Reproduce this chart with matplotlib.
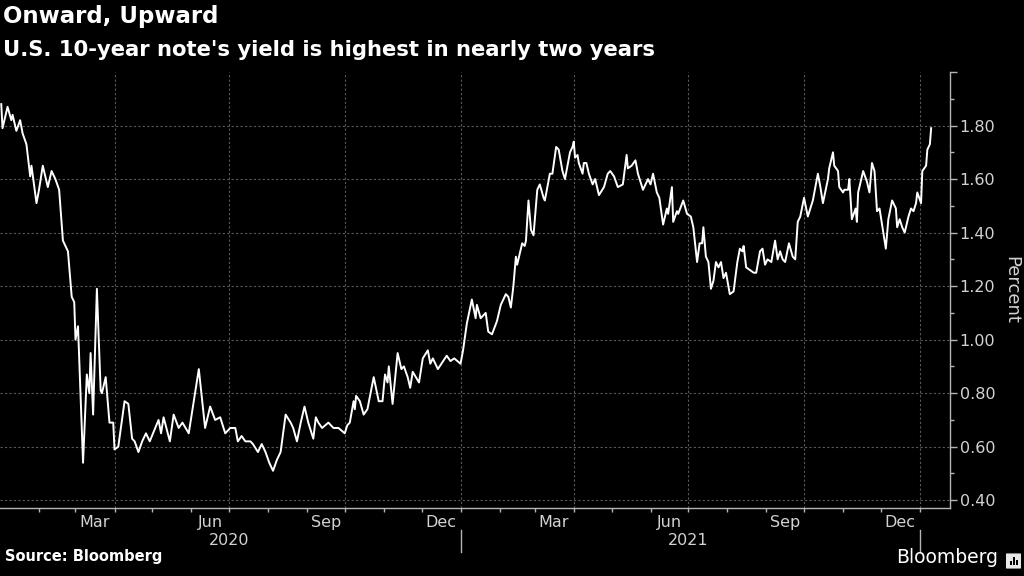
import numpy as np
import pandas as pd
import matplotlib
matplotlib.use("Agg")
import matplotlib.pyplot as plt
import matplotlib.transforms as mtransforms
from matplotlib.patches import FancyBboxPatch, Rectangle
from matplotlib.lines import Line2D

title = "Onward, Upward"
subtitle = "U.S. 10-year note's yield is highest in nearly two years"
source = "Source: Bloomberg"
y_label = "Percent"

# US 10-year yield
dates_2020 = [
    "2020-01-02", "2020-01-03", "2020-01-07", "2020-01-10", "2020-01-11", "2020-01-14",
    "2020-01-17", "2020-01-19", "2020-01-22", "2020-01-25", "2020-01-26", "2020-01-28",
    "2020-01-30", "2020-02-01", "2020-02-04", "2020-02-08", "2020-02-11", "2020-02-14",
    "2020-02-17", "2020-02-20", "2020-02-24", "2020-02-27", "2020-02-29", "2020-03-01",
    "2020-03-03", "2020-03-07", "2020-03-10", "2020-03-12", "2020-03-13", "2020-03-15",
    "2020-03-18", "2020-03-21", "2020-03-22", "2020-03-25", "2020-03-28", "2020-03-31",
    "2020-04-01", "2020-04-04", "2020-04-09", "2020-04-12", "2020-04-15", "2020-04-17",
    "2020-04-20", "2020-04-23", "2020-04-26", "2020-04-29", "2020-05-06", "2020-05-08",
    "2020-05-10", "2020-05-15", "2020-05-18", "2020-05-22", "2020-05-25", "2020-05-30",
    "2020-06-02", "2020-06-07", "2020-06-12", "2020-06-16", "2020-06-20", "2020-06-24",
    "2020-06-28", "2020-07-02", "2020-07-06", "2020-07-08", "2020-07-11", "2020-07-14",
    "2020-07-18", "2020-07-20", "2020-07-24", "2020-07-27", "2020-07-30", "2020-08-02",
    "2020-08-05", "2020-08-08", "2020-08-11", "2020-08-15", "2020-08-19", "2020-08-21",
    "2020-08-24", "2020-08-27", "2020-08-30", "2020-09-02", "2020-09-06", "2020-09-08",
    "2020-09-10", "2020-09-13", "2020-09-18", "2020-09-22", "2020-09-26", "2020-10-01",
    "2020-10-03", "2020-10-05", "2020-10-08", "2020-10-09", "2020-10-10", "2020-10-13",
    "2020-10-16", "2020-10-19", "2020-10-24", "2020-10-28", "2020-10-31", "2020-11-02",
    "2020-11-04", "2020-11-05", "2020-11-08", "2020-11-12", "2020-11-15", "2020-11-17",
    "2020-11-20", "2020-11-22", "2020-11-24", "2020-11-29", "2020-12-02", "2020-12-06",
    "2020-12-08", "2020-12-10", "2020-12-14", "2020-12-21", "2020-12-24", "2020-12-27",
]
yields_2020 = [
    1.88, 1.79, 1.87, 1.82, 1.84, 1.78,
    1.82, 1.77, 1.73, 1.61, 1.65, 1.58,
    1.51, 1.56, 1.65, 1.57, 1.63, 1.60,
    1.56, 1.37, 1.33, 1.16, 1.14, 1.00,
    1.05, 0.54, 0.87, 0.80, 0.95, 0.72,
    1.19, 0.81, 0.80, 0.86, 0.69, 0.69,
    0.59, 0.60, 0.77, 0.76, 0.63, 0.62,
    0.58, 0.62, 0.65, 0.62, 0.70, 0.65,
    0.71, 0.62, 0.72, 0.67, 0.69, 0.65,
    0.74, 0.89, 0.67, 0.75, 0.70, 0.71,
    0.65, 0.67, 0.67, 0.62, 0.64, 0.62,
    0.62, 0.61, 0.58, 0.61, 0.58, 0.54,
    0.51, 0.55, 0.58, 0.72, 0.69, 0.67,
    0.62, 0.69, 0.75, 0.69, 0.63, 0.71,
    0.69, 0.67, 0.69, 0.67, 0.67, 0.65,
    0.68, 0.69, 0.77, 0.74, 0.79, 0.77,
    0.72, 0.74, 0.86, 0.77, 0.77, 0.87,
    0.84, 0.90, 0.76, 0.95, 0.89, 0.90,
    0.86, 0.82, 0.88, 0.84, 0.93, 0.96,
    0.91, 0.93, 0.89, 0.94, 0.92, 0.93,
]

dates_2021 = [
    "2021-01-01", "2021-01-03", "2021-01-06", "2021-01-10", "2021-01-13", "2021-01-14",
    "2021-01-17", "2021-01-21", "2021-01-23", "2021-01-26", "2021-01-30", "2021-02-02",
    "2021-02-06", "2021-02-08", "2021-02-10", "2021-02-12", "2021-02-14", "2021-02-15",
    "2021-02-19", "2021-02-21", "2021-02-22", "2021-02-24", "2021-02-26", "2021-02-28",
    "2021-03-03", "2021-03-05", "2021-03-08", "2021-03-09", "2021-03-13", "2021-03-15",
    "2021-03-18", "2021-03-20", "2021-03-23", "2021-03-25", "2021-03-27", "2021-03-29",
    "2021-03-31", "2021-04-01", "2021-04-02", "2021-04-04", "2021-04-05", "2021-04-08",
    "2021-04-09", "2021-04-11", "2021-04-13", "2021-04-16", "2021-04-18", "2021-04-21",
    "2021-04-25", "2021-04-28", "2021-04-30", "2021-05-03", "2021-05-06", "2021-05-10",
    "2021-05-13", "2021-05-14", "2021-05-17", "2021-05-20", "2021-05-22", "2021-05-26",
    "2021-05-30", "2021-06-01", "2021-06-03", "2021-06-06", "2021-06-08", "2021-06-11",
    "2021-06-14", "2021-06-15", "2021-06-18", "2021-06-19", "2021-06-22", "2021-06-23",
    "2021-06-27", "2021-06-30", "2021-07-03", "2021-07-05", "2021-07-08", "2021-07-10",
    "2021-07-12", "2021-07-13", "2021-07-15", "2021-07-17", "2021-07-19", "2021-07-21",
    "2021-07-23", "2021-07-25", "2021-07-27", "2021-07-29", "2021-07-31", "2021-08-03",
    "2021-08-06", "2021-08-09", "2021-08-11", "2021-08-13", "2021-08-14", "2021-08-16",
    "2021-08-19", "2021-08-22", "2021-08-24", "2021-08-27", "2021-08-29", "2021-08-31",
    "2021-09-02", "2021-09-05", "2021-09-08", "2021-09-10", "2021-09-12", "2021-09-14",
    "2021-09-16", "2021-09-19", "2021-09-22", "2021-09-24", "2021-09-26", "2021-09-28",
    "2021-10-01", "2021-10-04", "2021-10-08", "2021-10-12", "2021-10-14", "2021-10-16",
    "2021-10-20", "2021-10-21", "2021-10-24", "2021-10-25", "2021-10-28", "2021-10-29",
    "2021-11-01", "2021-11-02", "2021-11-05", "2021-11-06", "2021-11-08", "2021-11-11",
    "2021-11-12", "2021-11-13", "2021-11-17", "2021-11-20", "2021-11-22", "2021-11-24",
    "2021-11-26", "2021-11-28", "2021-11-30", "2021-12-02", "2021-12-03", "2021-12-05",
    "2021-12-07", "2021-12-10", "2021-12-13", "2021-12-14", "2021-12-16", "2021-12-18",
    "2021-12-20", "2021-12-23", "2021-12-25", "2021-12-27", "2021-12-29", "2021-12-30",
    "2022-01-02", "2022-01-03", "2022-01-06", "2022-01-07", "2022-01-09", "2022-01-10",
]
yields_2021 = [
    0.91, 0.96, 1.06, 1.15, 1.08, 1.13,
    1.08, 1.10, 1.03, 1.02, 1.07, 1.13,
    1.17, 1.16, 1.12, 1.20, 1.31, 1.28,
    1.36, 1.35, 1.37, 1.52, 1.41, 1.39,
    1.56, 1.58, 1.53, 1.52, 1.62, 1.62,
    1.72, 1.71, 1.63, 1.60, 1.65, 1.70,
    1.72, 1.74, 1.68, 1.69, 1.66, 1.62,
    1.66, 1.66, 1.62, 1.58, 1.60, 1.54,
    1.57, 1.62, 1.63, 1.61, 1.57, 1.58,
    1.69, 1.64, 1.65, 1.67, 1.62, 1.56,
    1.60, 1.58, 1.62, 1.55, 1.53, 1.43,
    1.49, 1.47, 1.57, 1.44, 1.48, 1.47,
    1.52, 1.47, 1.46, 1.42, 1.29, 1.36,
    1.36, 1.42, 1.31, 1.29, 1.19, 1.22,
    1.29, 1.27, 1.29, 1.23, 1.25, 1.17,
    1.18, 1.29, 1.34, 1.33, 1.35, 1.27,
    1.26, 1.25, 1.25, 1.33, 1.34, 1.28,
    1.30, 1.29, 1.37, 1.30, 1.33, 1.30,
    1.29, 1.36, 1.31, 1.30, 1.44, 1.46,
    1.53, 1.46, 1.52, 1.62, 1.57, 1.51,
    1.60, 1.64, 1.70, 1.65, 1.63, 1.57,
    1.55, 1.56, 1.56, 1.60, 1.45, 1.49,
    1.44, 1.55, 1.63, 1.59, 1.55, 1.66,
    1.63, 1.48, 1.49, 1.43, 1.40, 1.34,
    1.45, 1.52, 1.49, 1.42, 1.45, 1.42,
    1.40, 1.46, 1.49, 1.48, 1.51, 1.55,
    1.51, 1.63, 1.65, 1.71, 1.73, 1.79,
]

y_ticks = [0.40, 0.60, 0.80, 1.00, 1.20, 1.40, 1.60, 1.80, 2.00]
month_labels = ["Mar", "Jun", "Sep", "Dec"]
years = [2020, 2021]

dates = pd.to_datetime(dates_2020 + dates_2021)
yields = np.array(yields_2020 + yields_2021)

BG = "black"
GRID = "#5a5a5a"
AXIS = "#b4b4b4"
TXT = "#d2d2d2"

fig = plt.figure(figsize=(10.24, 5.76), dpi=100, facecolor=BG)
ax = fig.add_axes([0.0, 1 - 508 / 576, 950 / 1024, (508 - 72) / 576])
ax.set_facecolor(BG)

ax.plot(dates, yields, color="white", lw=1.4, solid_joinstyle="round", zorder=3)

ax.set_xlim(pd.Timestamp("2020-01-01"), pd.Timestamp("2022-01-25"))
ax.set_ylim(0.371, 2.0)

# spines
for s in ["top", "left"]:
    ax.spines[s].set_visible(False)
for s in ["right", "bottom"]:
    ax.spines[s].set_color(AXIS)
    ax.spines[s].set_linewidth(1.0)

# y axis on the right
ax.yaxis.tick_right()
ax.yaxis.set_label_position("right")
ax.set_yticks(y_ticks)
ax.set_yticklabels([f"{v:.2f}" if v < 1.95 else "" for v in y_ticks])
ax.set_yticks(np.arange(0.5, 2.0, 0.2), minor=True)
ax.tick_params(axis="y", which="major", length=5, width=1, color=AXIS,
               labelcolor=TXT, labelsize=11.5, pad=2)
ax.tick_params(axis="y", which="minor", length=3, width=1, color=AXIS)
ax.set_ylabel(y_label, rotation=270, color=TXT, fontsize=13, labelpad=18)
for v in y_ticks[:-1]:
    ax.axhline(v, color=GRID, lw=0.8, ls=(0, (2, 2)), zorder=1)

# x axis: month ticks, quarter gridlines, labels mid-month
month_starts = pd.date_range("2020-02-01", "2022-01-01", freq="MS")
ax.set_xticks(month_starts)
ax.set_xticklabels([])
ax.tick_params(axis="x", which="major", length=3, width=1, color=AXIS, direction="out")
label_pos = []
label_txt = []
for y in years:
    for m, name in zip([3, 6, 9, 12], month_labels):
        label_pos.append(pd.Timestamp(year=y, month=m, day=16))
        label_txt.append(name)
ax.set_xticks(label_pos, minor=True)
ax.set_xticklabels(label_txt, minor=True)
ax.tick_params(axis="x", which="minor", length=0, labelcolor=TXT, labelsize=11.5, pad=5)

for d in pd.date_range("2020-04-01", "2022-01-01", freq="QS-JAN"):
    ax.axvline(d, color=GRID, lw=0.8, ls=(0, (2, 2)), zorder=1)

trans = mtransforms.blended_transform_factory(ax.transData, ax.transAxes)
for y in years:
    ax.text(pd.Timestamp(year=y, month=7, day=1), -0.057, str(y), transform=trans,
            ha="center", va="top", color=TXT, fontsize=11.5)
    ax.add_line(Line2D([pd.Timestamp(year=y + 1, month=1, day=1)] * 2, [-0.05, -0.101],
                       transform=trans, color=AXIS, lw=1, clip_on=False))

# titles
fig.text(0.003, 0.992, title, ha="left", va="top", color="white",
         fontsize=16.5, fontweight="bold")
fig.text(0.003, 0.93, subtitle, ha="left", va="top", color="white",
         fontsize=15.2, fontweight="bold")
fig.text(0.005, 0.02, source, ha="left", va="bottom", color="white",
         fontsize=10.5, fontweight="bold")
fig.text(0.975, 0.015, "Bloomberg", ha="right", va="bottom", color="white",
         fontsize=13.5)

# little logo box
fig.patches.append(FancyBboxPatch((1007 / 1024, 8 / 576), 13 / 1024, 14 / 576,
                                  boxstyle="round,pad=0.001", transform=fig.transFigure,
                                  facecolor="#e8e8e8", edgecolor="none"))
for i, h in enumerate([4, 8, 5]):
    fig.patches.append(Rectangle(((1010 + i * 3) / 1024, 11 / 576), 1.6 / 1024, h / 576,
                                 transform=fig.transFigure, facecolor="black",
                                 edgecolor="none"))

fig.savefig("out.png", dpi=100, facecolor=BG)
